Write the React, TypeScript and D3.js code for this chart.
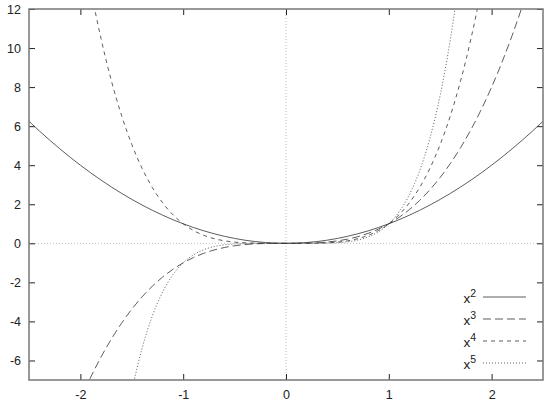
import { useEffect, useRef } from 'react';
import * as d3 from 'd3';

// sample points of the four curves
const xs = [
  -2.5, -2.4, -2.3, -2.2, -2.1, -2.0, -1.9, -1.8, -1.7, -1.6, -1.5, -1.4, -1.3, -1.2, -1.1, -1.0, -0.9,
  -0.8, -0.7, -0.6, -0.5, -0.4, -0.3, -0.2, -0.1, 0, 0.1, 0.2, 0.3, 0.4, 0.5, 0.6, 0.7, 0.8, 0.9, 1.0,
  1.1, 1.2, 1.3, 1.4, 1.5, 1.6, 1.7, 1.8, 1.9, 2.0, 2.1, 2.2, 2.3, 2.4, 2.5,
];
const sq = [
  6.25, 5.76, 5.29, 4.84, 4.41, 4, 3.61, 3.24, 2.89, 2.56, 2.25, 1.96, 1.69, 1.44, 1.21, 1, 0.81, 0.64,
  0.49, 0.36, 0.25, 0.16, 0.09, 0.04, 0.01, 0, 0.01, 0.04, 0.09, 0.16, 0.25, 0.36, 0.49, 0.64, 0.81, 1,
  1.21, 1.44, 1.69, 1.96, 2.25, 2.56, 2.89, 3.24, 3.61, 4, 4.41, 4.84, 5.29, 5.76, 6.25,
];
const cube = [
  -15.625, -13.824, -12.167, -10.648, -9.261, -8, -6.859, -5.832, -4.913, -4.096, -3.375, -2.744, -2.197,
  -1.728, -1.331, -1, -0.729, -0.512, -0.343, -0.216, -0.125, -0.064, -0.027, -0.008, -0.001, 0, 0.001,
  0.008, 0.027, 0.064, 0.125, 0.216, 0.343, 0.512, 0.729, 1, 1.331, 1.728, 2.197, 2.744, 3.375, 4.096,
  4.913, 5.832, 6.859, 8, 9.261, 10.648, 12.167, 13.824, 15.625,
];
const quart = [
  39.0625, 33.1776, 27.9841, 23.4256, 19.4481, 16, 13.0321, 10.4976, 8.3521, 6.5536, 5.0625, 3.8416,
  2.8561, 2.0736, 1.4641, 1, 0.6561, 0.4096, 0.2401, 0.1296, 0.0625, 0.0256, 0.0081, 0.0016, 0.0001, 0,
  0.0001, 0.0016, 0.0081, 0.0256, 0.0625, 0.1296, 0.2401, 0.4096, 0.6561, 1, 1.4641, 2.0736, 2.8561,
  3.8416, 5.0625, 6.5536, 8.3521, 10.4976, 13.0321, 16, 19.4481, 23.4256, 27.9841, 33.1776, 39.0625,
];
const quint = [
  -97.65625, -79.62624, -64.36343, -51.53632, -40.84101, -32, -24.76099, -18.89568, -14.19857, -10.48576,
  -7.59375, -5.37824, -3.71293, -2.48832, -1.61051, -1, -0.59049, -0.32768, -0.16807, -0.07776, -0.03125,
  -0.01024, -0.00243, -0.00032, -0.00001, 0, 0.00001, 0.00032, 0.00243, 0.01024, 0.03125, 0.07776,
  0.16807, 0.32768, 0.59049, 1, 1.61051, 2.48832, 3.71293, 5.37824, 7.59375, 10.48576, 14.19857,
  18.89568, 24.76099, 32, 40.84101, 51.53632, 64.36343, 79.62624, 97.65625,
];

const seriesNames = ['2', '3', '4', '5'];
const seriesValues = [sq, cube, quart, quint];
const dashes = ['none', '8,4', '4,4', '1,2'];

const xTicks = [-2, -1, 0, 1, 2];
const yTicks = [-6, -4, -2, 0, 2, 4, 6, 8, 10, 12];

const FONT = '"Liberation Sans", Arial, sans-serif';

function App() {
  const svgRef = useRef<SVGSVGElement | null>(null);
  const width = 544;
  const height = 408;
  const margin = { top: 9, right: 1, bottom: 28, left: 29 };

  useEffect(() => {
    const svg = d3.select(svgRef.current);
    svg.selectAll('*').remove();

    const x = d3.scaleLinear().domain([-2.5, 2.5]).range([margin.left, width - margin.right]);
    const y = d3.scaleLinear().domain([-7, 12]).range([height - margin.bottom, margin.top]);

    svg
      .append('defs')
      .append('clipPath')
      .attr('id', 'plot-clip')
      .append('rect')
      .attr('x', margin.left)
      .attr('y', margin.top)
      .attr('width', width - margin.left - margin.right)
      .attr('height', height - margin.top - margin.bottom);

    // zero lines
    svg
      .append('line')
      .attr('x1', x(0))
      .attr('x2', x(0))
      .attr('y1', margin.top)
      .attr('y2', height - margin.bottom)
      .attr('stroke', '#aaa')
      .attr('stroke-width', 0.8)
      .attr('stroke-dasharray', '1,2');
    svg
      .append('line')
      .attr('x1', margin.left)
      .attr('x2', width - margin.right)
      .attr('y1', y(0))
      .attr('y2', y(0))
      .attr('stroke', '#aaa')
      .attr('stroke-width', 0.8)
      .attr('stroke-dasharray', '1,2');

    const style = (g: d3.Selection<SVGGElement, unknown, null, undefined>) => {
      g.select('.domain').remove();
      g.selectAll('line').attr('stroke', '#222');
      g.selectAll('text').attr('font-size', 12.5).attr('fill', '#222');
      g.attr('font-family', FONT);
    };

    const label = (d: d3.NumberValue) => `${d}`;

    svg
      .append<SVGGElement>('g')
      .attr('transform', `translate(0,${height - margin.bottom})`)
      .call(d3.axisBottom(x).tickValues(xTicks).tickSize(-6).tickPadding(10).tickFormat(label))
      .call(style);
    svg
      .append<SVGGElement>('g')
      .attr('transform', `translate(0,${margin.top})`)
      .call(d3.axisTop(x).tickValues(xTicks).tickSize(-6).tickFormat(() => ''))
      .call(style);
    svg
      .append<SVGGElement>('g')
      .attr('transform', `translate(${margin.left},0)`)
      .call(d3.axisLeft(y).tickValues(yTicks).tickSize(-6).tickPadding(8).tickFormat(label))
      .call(style);
    svg
      .append<SVGGElement>('g')
      .attr('transform', `translate(${width - margin.right},0)`)
      .call(d3.axisRight(y).tickValues(yTicks).tickSize(-6).tickFormat(() => ''))
      .call(style);

    // curves
    const line = d3
      .line<number>()
      .x((_, i) => x(xs[i]))
      .y((d) => y(d))
      .curve(d3.curveMonotoneX);

    const plot = svg.append('g').attr('clip-path', 'url(#plot-clip)');
    seriesValues.forEach((vals, i) => {
      plot
        .append('path')
        .datum(vals)
        .attr('d', line)
        .attr('fill', 'none')
        .attr('stroke', '#333')
        .attr('stroke-width', 0.8)
        .attr('stroke-dasharray', dashes[i]);
    });

    // frame
    svg
      .append('rect')
      .attr('x', margin.left)
      .attr('y', margin.top)
      .attr('width', width - margin.left - margin.right)
      .attr('height', height - margin.top - margin.bottom)
      .attr('fill', 'none')
      .attr('stroke', '#777')
      .attr('stroke-width', 1.5);

    // legend
    const legend = svg.append('g').attr('font-family', FONT).attr('font-size', 13.5);
    seriesNames.forEach((name, i) => {
      const ly = 297 + i * 22;
      const t = legend
        .append('text')
        .attr('x', 476)
        .attr('y', ly + 6)
        .attr('text-anchor', 'end')
        .attr('fill', '#222');
      t.append('tspan').text('x');
      t.append('tspan').attr('dy', -6).attr('font-size', 10.5).text(name);
      legend
        .append('line')
        .attr('x1', 483)
        .attr('x2', 526)
        .attr('y1', ly)
        .attr('y2', ly)
        .attr('stroke', '#333')
        .attr('stroke-width', 0.8)
        .attr('stroke-dasharray', dashes[i]);
    });
  }, []);

  return (
    <svg
      ref={svgRef}
      width={width}
      height={height}
      style={{ position: 'absolute', left: 0, top: 0, background: '#fff' }}
    />
  );
}

export default App;
